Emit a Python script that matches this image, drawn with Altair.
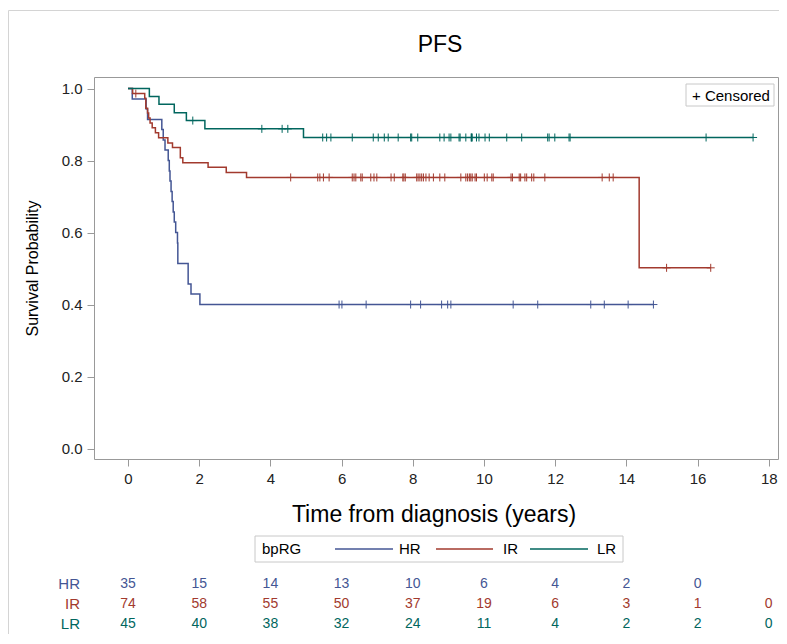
import altair as alt
import numpy as np
import pandas as pd

# ---------------- data ----------------
groups = ["HR", "IR", "LR"]
colors = ["#445694", "#A23A2E", "#01665E"]

hr_times = [0, 0.12, 0.51, 0.55, 0.95, 0.99, 1.04, 1.13, 1.16, 1.18, 1.21, 1.24,
            1.27, 1.30, 1.34, 1.39, 1.40, 1.69, 1.77, 2.02, 14.76]
hr_surv = [1.000, 0.971, 0.943, 0.914, 0.886, 0.857, 0.829, 0.800, 0.771, 0.743,
           0.714, 0.686, 0.657, 0.629, 0.600, 0.571, 0.514, 0.457, 0.429, 0.400, 0.400]
hr_censored = [5.93, 6.01, 6.69, 7.94, 8.22, 8.81, 8.98, 9.07, 10.82, 11.51,
               13.00, 13.38, 14.05, 14.76]

ir_times = [0, 0.13, 0.47, 0.50, 0.55, 0.58, 0.62, 0.68, 0.77, 0.86, 1.12, 1.25,
            1.47, 1.54, 2.25, 2.76, 3.33, 14.36, 16.37]
ir_surv = [1.000, 0.986, 0.973, 0.945, 0.932, 0.918, 0.904, 0.891, 0.877, 0.863,
           0.849, 0.836, 0.808, 0.794, 0.781, 0.767, 0.753, 0.502, 0.502]
ir_censored = [0.22, 4.57, 5.33, 5.39, 5.49, 5.65, 6.30, 6.35, 6.40, 6.54, 6.58,
               6.82, 6.91, 6.99, 7.39, 7.48, 7.72, 7.75, 7.79, 8.11, 8.15, 8.20,
               8.25, 8.30, 8.37, 8.46, 8.58, 8.76, 8.90, 9.35, 9.49, 9.54, 9.59,
               9.63, 9.67, 9.75, 9.79, 10.01, 10.09, 10.22, 10.26, 10.76, 10.80,
               10.99, 11.03, 11.15, 11.20, 11.34, 11.40, 11.71, 13.32, 13.52,
               13.63, 15.13, 16.37]

lr_times = [0, 0.60, 0.87, 1.30, 1.64, 2.16, 4.93, 17.56]
lr_surv = [1.000, 0.978, 0.956, 0.933, 0.911, 0.888, 0.864, 0.864]
lr_censored = [1.82, 3.76, 4.33, 4.49, 5.47, 5.58, 5.70, 6.30, 6.89, 7.03, 7.20,
               7.31, 7.59, 7.94, 7.97, 8.14, 8.76, 8.88, 9.02, 9.07, 9.30, 9.33,
               9.49, 9.64, 9.65, 9.67, 9.79, 9.86, 10.03, 10.15, 10.64, 11.06,
               11.79, 11.83, 11.99, 12.39, 12.42, 16.24, 17.56]

risk_times = [0, 2, 4, 6, 8, 10, 12, 14, 16, 18]
hr_risk = [35, 15, 14, 13, 10, 6, 4, 2, 0]
ir_risk = [74, 58, 55, 50, 37, 19, 6, 3, 1, 0]
lr_risk = [45, 40, 38, 32, 24, 11, 4, 2, 2, 0]

x_ticks = [0, 2, 4, 6, 8, 10, 12, 14, 16, 18]
y_ticks = [0.0, 0.2, 0.4, 0.6, 0.8, 1.0]

# ---------------- tables ----------------
curves = {"HR": (hr_times, hr_surv, hr_censored, hr_risk),
          "IR": (ir_times, ir_surv, ir_censored, ir_risk),
          "LR": (lr_times, lr_surv, lr_censored, lr_risk)}

step_rows, cens_rows, risk_rows = [], [], []
for g, (ts, ss, cs, rs) in curves.items():
    for i, (t, s) in enumerate(zip(ts, ss)):
        step_rows.append({"group": g, "time": t, "surv": s, "idx": i})
    ts_arr = np.array(ts)
    for c in cs:
        k = int(np.searchsorted(ts_arr, c, side="right")) - 1
        cens_rows.append({"group": g, "time": c, "surv": ss[k]})
    for t, n in zip(risk_times, rs):
        risk_rows.append({"group": g, "time": t, "n": str(n)})

steps = pd.DataFrame(step_rows)
cens = pd.DataFrame(cens_rows)
risk = pd.DataFrame(risk_rows)
one = pd.DataFrame({"k": [0]})

W, H = 684, 382
FONT = "Liberation Sans"

xscale = alt.Scale(domain=[-0.955, 18.26], nice=False, zero=False)
yscale = alt.Scale(domain=[-0.029, 1.032], nice=False, zero=False)
color = alt.Color("group:N", scale=alt.Scale(domain=groups, range=colors), legend=None)

xaxis = alt.Axis(values=x_ticks, format="d", grid=False, domain=False,
                 tickSize=7, tickColor="#999999", labelFontSize=15,
                 labelColor="#222222", labelPadding=5, labelFont=FONT,
                 title="Time from diagnosis (years)", titleFontSize=23,
                 titleFont=FONT, titleFontWeight="normal", titleColor="#000000",
                 titleX=339.5, titleY=55, titleBaseline="middle")
yaxis = alt.Axis(values=y_ticks, format=".1f", grid=False, domain=False,
                 tickSize=7, tickColor="#999999", labelFontSize=15,
                 labelColor="#222222", labelPadding=5, labelFont=FONT,
                 title="Survival Probability", titleFontSize=16,
                 titleFont=FONT, titleFontWeight="normal", titleColor="#000000",
                 titleX=-62, titleY=191, titleAngle=-90, titleBaseline="middle")

X = alt.X("time:Q", scale=xscale, axis=xaxis)
Y = alt.Y("surv:Q", scale=yscale, axis=yaxis)

lines = alt.Chart(steps).mark_line(interpolate="step-after", strokeWidth=1.5).encode(
    x=X, y=Y, color=color, detail="group:N", order=alt.Order("idx:Q"))

censor_marks = alt.Chart(cens).mark_point(
    shape="M0,-1L0,1M-1,0L1,0", size=64, filled=False, strokeWidth=1, opacity=1
).encode(x=X, y=Y, color=color)

# chart title
title = alt.Chart(one).mark_text(text="PFS", align="center", baseline="middle",
                                 fontSize=23, font=FONT, color="#000000").encode(
    x=alt.value(346), y=alt.value(-32))

# Censored inset legend
cens_box = alt.Chart(one).mark_rect(fill="white", stroke="#c8c8c8", strokeWidth=1).encode(
    x=alt.value(592), x2=alt.value(680), y=alt.value(7), y2=alt.value(29))
cens_text = alt.Chart(one).mark_text(text="+ Censored", align="left", baseline="middle",
                                     fontSize=15, font=FONT, color="#000000").encode(
    x=alt.value(598), y=alt.value(18.5))

# At-risk table
row_y = {"HR": 506.5, "IR": 526.5, "LR": 546.5}
risk_layers = []
for g, c in zip(groups, colors):
    risk_layers.append(
        alt.Chart(risk[risk["group"] == g]).mark_text(
            baseline="middle", align="center", fontSize=14, font=FONT, color=c
        ).encode(x=X, y=alt.value(row_y[g]), text="n:N"))
    risk_layers.append(
        alt.Chart(one).mark_text(text=g, baseline="middle", align="right",
                                 fontSize=15, font=FONT, color=c).encode(
            x=alt.value(-14), y=alt.value(row_y[g])))

# Bottom group legend
leg_box = alt.Chart(one).mark_rect(fill="white", stroke="#c8c8c8", strokeWidth=1).encode(
    x=alt.value(161), x2=alt.value(529), y=alt.value(459), y2=alt.value(485))
leg_title = alt.Chart(one).mark_text(text="bpRG", align="left", baseline="middle",
                                     fontSize=15, font=FONT, color="#000000").encode(
    x=alt.value(168), y=alt.value(472))
leg_layers = [leg_box, leg_title]
for g, c, x0, x1, xl in zip(groups, colors, [241, 342, 436], [299, 399, 494], [305, 409, 503]):
    leg_layers.append(alt.Chart(one).mark_rule(color=c, strokeWidth=1.5).encode(
        x=alt.value(x0), x2=alt.value(x1), y=alt.value(472)))
    leg_layers.append(alt.Chart(one).mark_text(text=g, align="left", baseline="middle",
                                               fontSize=15, font=FONT, color="#000000").encode(
        x=alt.value(xl), y=alt.value(472)))

# outer light frame of the image
outer = alt.Chart(one).mark_rect(fill=None, stroke="#d4d4d4", strokeWidth=1).encode(
    x=alt.value(-85.5), x2=alt.value(W + 60), y=alt.value(-66.5), y2=alt.value(H + 300))

chart = alt.layer(
    outer, title, lines, censor_marks, cens_box, cens_text, *leg_layers, *risk_layers
).properties(
    width=W, height=H,
    autosize=alt.AutoSizeParams(type="none"),
    padding={"left": 86, "top": 69, "right": 1, "bottom": 175},
).configure_view(stroke="#999999", strokeWidth=1)

chart.save("out.html", embed_options={"renderer": "svg", "actions": False})
